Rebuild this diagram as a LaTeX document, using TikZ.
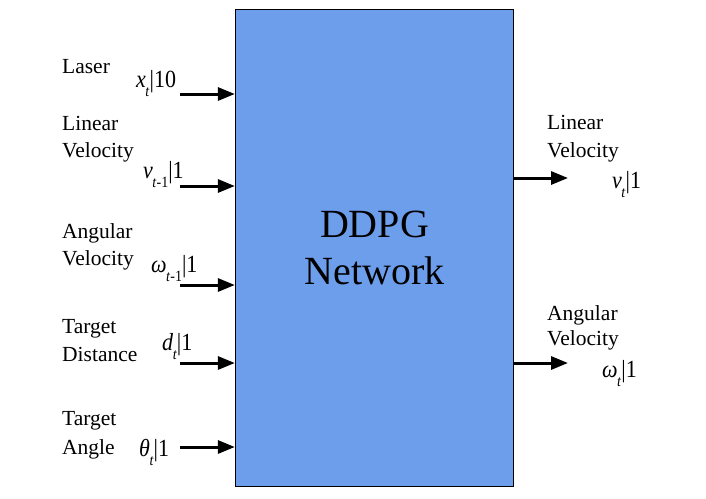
\documentclass[tikz,border=0pt]{standalone}
\usepackage{fontspec}
\setmainfont{Liberation Serif}
\usepackage{xcolor}
\usepackage{tikz}
\usetikzlibrary{arrows.meta}

\definecolor{netblue}{HTML}{6D9EEB}
\newcommand{\lowsub}[1]{\kern-0.5pt\raisebox{-0.38em}{\fontsize{14}{14}\selectfont #1}}
\newcommand{\tallval}[1]{\scalebox{1}[1.12]{#1}}

\begin{document}
\begin{tikzpicture}[x=1pt, y=-1pt,
    lbl/.style={anchor=base west, inner sep=0pt, font=\fontsize{21.5}{26}\selectfont},
    val/.style={anchor=base west, inner sep=0pt, font=\fontsize{22}{26}\selectfont},
    arr/.style={line width=3pt, -{Triangle[length=17pt, width=13pt]}}]
            \useasboundingbox (0,0) rectangle (706,498);

            % DDPG network box
            \node[draw, line width=1.3pt, fill=netblue, minimum width=278pt, minimum height=477pt,
                align=center, font=\fontsize{40}{47}\selectfont] (net) at (374.5,248) {DDPG\\Network};

            % Laser
            \node[lbl] (laser) at (62,73) {Laser};
            \node[val] (xval) at (136,87) {\tallval{\textit{x}\lowsub{\textit{t}}|10}};
            \coordinate (xin) at (180,94);
            \draw[arr] (xin) -- (xin -| net.west);

            % Linear velocity (input)
            \node[lbl] (linin) at (62,130) {Linear};
            \node[lbl] (linvelin) at (62,157) {Velocity};
            \node[val] (vval) at (143,178) {\tallval{\textit{v}\lowsub{\textit{t}-1}|1}};
            \coordinate (vin) at (180,186);
            \draw[arr] (vin) -- (vin -| net.west);

            % Angular velocity (input)
            \node[lbl] (angin) at (62,238) {Angular};
            \node[lbl] (angvelin) at (62,265) {Velocity};
            \node[val] (wval) at (151,272) {\tallval{\textit{ω}\lowsub{\textit{t}-1}|1}};
            \coordinate (win) at (180,285);
            \draw[arr] (win) -- (win -| net.west);

            % Target distance
            \node[lbl] (tgtd) at (62,333) {Target};
            \node[lbl] (dist) at (62,361) {Distance};
            \node[val] (dval) at (162,350) {\tallval{\textit{d}\lowsub{\textit{t}}|1}};
            \coordinate (din) at (180,363);
            \draw[arr] (din) -- (din -| net.west);

            % Target angle
            \node[lbl] (tgta) at (62,425) {Target};
            \node[lbl] (angle) at (62,454) {Angle};
            \node[val] (thval) at (139,456) {\tallval{\textit{θ}\lowsub{\textit{t}}|1}};
            \coordinate (thin) at (180,447);
            \draw[arr] (thin) -- (thin -| net.west);

            % Linear velocity (output)
            \coordinate (vout) at (568,178);
            \draw[arr] (vout -| net.east) -- (vout);
            \node[lbl] (linout) at (547,129) {Linear};
            \node[lbl] (linvelout) at (547,157) {Velocity};
            \node[val] (vtval) at (612,188) {\tallval{\textit{v}\lowsub{\textit{t}}|1}};

            % Angular velocity (output)
            \coordinate (wout) at (568,363);
            \draw[arr] (wout -| net.east) -- (wout);
            \node[lbl] (angout) at (547,320) {Angular};
            \node[lbl] (angvelout) at (547,345) {Velocity};
            \node[val] (wtval) at (602,377) {\tallval{\textit{ω}\lowsub{\textit{t}}|1}};
\end{tikzpicture}
\end{document}
